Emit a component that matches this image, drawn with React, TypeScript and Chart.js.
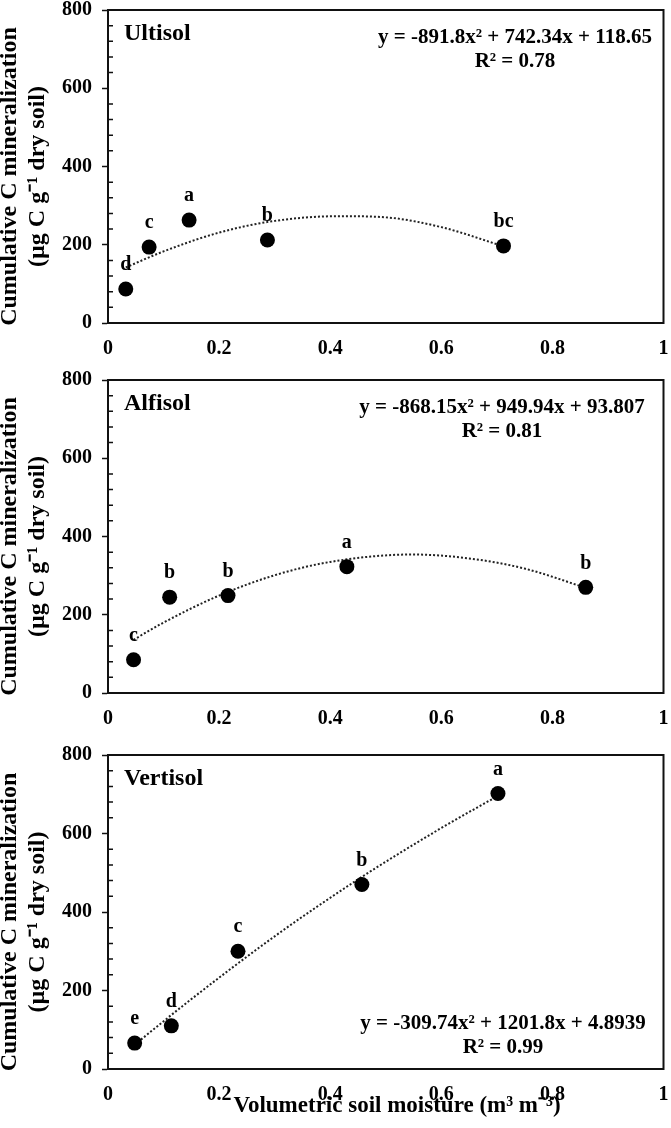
import React, { useEffect, useRef } from 'react';
import { Chart, registerables, type Plugin } from 'chart.js';

Chart.register(...registerables);

// Ultisol
const ultisolMoisture = [0.032, 0.074, 0.146, 0.287, 0.712];
const ultisolCmin = [87, 194, 263, 212, 197];
const ultisolLetters = ['d', 'c', 'a', 'b', 'bc'];
const ultisolFitX = [0.032, 0.1, 0.2, 0.3, 0.416, 0.5, 0.6, 0.712];
const ultisolFitY = [142, 183, 231, 261, 273, 270, 245, 196];

// Alfisol
const alfisolMoisture = [0.046, 0.111, 0.216, 0.43, 0.86];
const alfisolCmin = [85, 245, 249, 323, 270];
const alfisolLetters = ['c', 'b', 'b', 'a', 'b'];
const alfisolFitX = [0.046, 0.1, 0.2, 0.3, 0.4, 0.547, 0.65, 0.75, 0.86];
const alfisolFitY = [136, 180, 249, 301, 335, 354, 344, 318, 269];

// Vertisol
const vertisolMoisture = [0.048, 0.114, 0.234, 0.457, 0.702];
const vertisolCmin = [66, 110, 300, 470, 702];
const vertisolLetters = ['e', 'd', 'c', 'b', 'a'];
const vertisolFitX = [0.048, 0.15, 0.3, 0.45, 0.6, 0.702];
const vertisolFitY = [62, 178, 338, 483, 614, 696];

const xTicks = [0, 0.2, 0.4, 0.6, 0.8, 1];
const yTicks = [0, 200, 400, 600, 800];
const yMinorStep = 40;

const SERIF = '"Liberation Serif", "Times New Roman", serif';

interface PanelProps {
  name: string;
  moisture: number[];
  cmin: number[];
  letters: string[];
  fitX: number[];
  fitY: number[];
  equation: string;
  r2: string;
  eqCenterX: number;
  eqAtBottom: boolean;
  showXTitle: boolean;
  width: number;
  height: number;
  padTop: number;
  plotHeight: number;
}

function Panel(p: PanelProps) {
  const canvasRef = useRef<HTMLCanvasElement>(null);

  useEffect(() => {
    if (!canvasRef.current) return;

    const decor: Plugin = {
      id: 'decor',
      afterDraw(chart) {
        const { ctx, chartArea: a, scales: { x, y } } = chart;
        ctx.save();

        // frame
        ctx.strokeStyle = '#111';
        ctx.lineWidth = 2;
        ctx.strokeRect(a.left, a.top, a.right - a.left, a.bottom - a.top);

        // minor ticks inside the left axis
        ctx.lineWidth = 1.5;
        ctx.beginPath();
        for (let v = yMinorStep; v < 800; v += yMinorStep) {
          if (v % 200 === 0) continue;
          const py = y.getPixelForValue(v);
          ctx.moveTo(a.left, py);
          ctx.lineTo(a.left + 5, py);
        }
        ctx.stroke();

        ctx.fillStyle = '#000';

        // letters above points
        ctx.font = `bold 20px ${SERIF}`;
        ctx.textAlign = 'center';
        ctx.textBaseline = 'middle';
        p.letters.forEach((l, i) => {
          ctx.fillText(l, x.getPixelForValue(p.moisture[i]), y.getPixelForValue(p.cmin[i]) - 24);
        });

        // soil name
        ctx.font = `bold 24px ${SERIF}`;
        ctx.textAlign = 'left';
        ctx.textBaseline = 'alphabetic';
        ctx.fillText(p.name, a.left + 16, a.top + 30);

        // equation
        ctx.font = `bold 21px ${SERIF}`;
        ctx.textAlign = 'center';
        const eqY = p.eqAtBottom ? a.bottom - 40 : a.top + 33;
        ctx.fillText(p.equation, p.eqCenterX, eqY);
        ctx.fillText(p.r2, p.eqCenterX, eqY + 24);

        // y title
        ctx.font = `bold 24px ${SERIF}`;
        ctx.textBaseline = 'middle';
        const cy = (a.top + a.bottom) / 2 + 10;
        ctx.translate(10, cy);
        ctx.rotate(-Math.PI / 2);
        ctx.fillText('Cumulative C mineralization', 0, 0);
        ctx.fillText('(µg C g⁻¹ dry soil)', 0, 28);
        ctx.restore();

        if (p.showXTitle) {
          ctx.save();
          ctx.fillStyle = '#000';
          ctx.font = `bold 23px ${SERIF}`;
          ctx.textAlign = 'center';
          ctx.textBaseline = 'alphabetic';
          ctx.fillText('Volumetric soil moisture (m³ m⁻³)', 397, a.bottom + 43);
          ctx.restore();
        }
      },
    };

    const xAxisHeight = p.height - p.padTop - p.plotHeight;

    const chart = new Chart(canvasRef.current, {
      type: 'scatter',
      data: {
        datasets: [
          {
            type: 'scatter',
            data: p.moisture.map((m, i) => ({ x: m, y: p.cmin[i] })),
            backgroundColor: '#000',
            borderWidth: 0,
            pointRadius: 7.5,
            order: 0,
          },
          {
            type: 'line',
            data: p.fitX.map((m, i) => ({ x: m, y: p.fitY[i] })),
            borderColor: '#222',
            borderWidth: 2,
            borderDash: [2, 2],
            pointRadius: 0,
            fill: false,
            cubicInterpolationMode: 'monotone',
            order: 1,
          },
        ],
      },
      options: {
        responsive: false,
        animation: false,
        layout: { padding: { left: 0, right: 5, top: p.padTop, bottom: 0 } },
        plugins: { legend: { display: false }, tooltip: { enabled: false } },
        scales: {
          x: {
            type: 'linear',
            min: 0,
            max: 1,
            afterBuildTicks: s => { s.ticks = xTicks.map(v => ({ value: v })); },
            afterFit: s => {
              s.height = xAxisHeight;
              s.paddingLeft = 0;
              s.paddingRight = 0;
            },
            grid: { display: true, drawOnChartArea: false, drawTicks: false },
            border: { display: true, color: '#111', width: 2 },
            ticks: {
              color: '#000',
              padding: 14,
              maxRotation: 0,
              font: { family: SERIF, size: 20, weight: 'bold' },
              callback: v => String(Number(v)),
            },
          },
          y: {
            type: 'linear',
            min: 0,
            max: 800,
            afterBuildTicks: s => { s.ticks = yTicks.map(v => ({ value: v })); },
            afterFit: s => {
              s.width = 108;
              s.paddingTop = 0;
              s.paddingBottom = 0;
            },
            grid: { drawOnChartArea: false, drawTicks: true, tickLength: 6, tickWidth: 1.5, tickColor: '#111' },
            border: { display: true, color: '#111', width: 2 },
            ticks: {
              color: '#000',
              padding: 10,
              font: { family: SERIF, size: 20, weight: 'bold' },
            },
          },
        },
      },
      plugins: [decor],
    });

    return () => { chart.destroy(); };
  }, [p]);

  return <canvas ref={canvasRef} width={p.width} height={p.height} style={{ display: 'block' }} />;
}

const panels: PanelProps[] = [
  {
    name: 'Ultisol',
    moisture: ultisolMoisture, cmin: ultisolCmin, letters: ultisolLetters,
    fitX: ultisolFitX, fitY: ultisolFitY,
    equation: 'y = -891.8x² + 742.34x + 118.65', r2: 'R² = 0.78',
    eqCenterX: 515, eqAtBottom: false, showXTitle: false,
    width: 671, height: 370, padTop: 10, plotHeight: 313,
  },
  {
    name: 'Alfisol',
    moisture: alfisolMoisture, cmin: alfisolCmin, letters: alfisolLetters,
    fitX: alfisolFitX, fitY: alfisolFitY,
    equation: 'y = -868.15x² + 949.94x + 93.807', r2: 'R² = 0.81',
    eqCenterX: 502, eqAtBottom: false, showXTitle: false,
    width: 671, height: 370, padTop: 10, plotHeight: 313,
  },
  {
    name: 'Vertisol',
    moisture: vertisolMoisture, cmin: vertisolCmin, letters: vertisolLetters,
    fitX: vertisolFitX, fitY: vertisolFitY,
    equation: 'y = -309.74x² + 1201.8x + 4.8939', r2: 'R² = 0.99',
    eqCenterX: 503, eqAtBottom: true, showXTitle: true,
    width: 671, height: 388, padTop: 15, plotHeight: 314,
  },
];

export default function App() {
  return (
    <div style={{ position: 'absolute', left: 0, top: 0, width: 671, height: 1128, background: '#fff' }}>
      {panels.map(p => <Panel key={p.name} {...p} />)}
    </div>
  );
}
